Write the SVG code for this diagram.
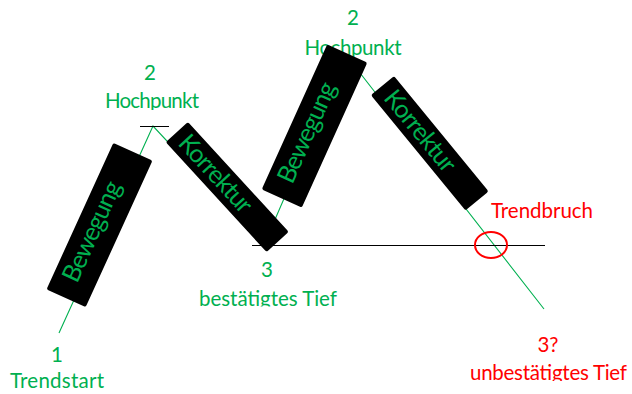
<svg xmlns="http://www.w3.org/2000/svg" width="632" height="394" viewBox="0 0 632 394">
<style>
  .g{fill:#00b050}
  .r{fill:#ff0000}
  text{font-family:Lato,"Open Sans","Liberation Sans",sans-serif;text-anchor:middle}
  .lbl{font-size:20.5px}
  .bt{font-size:25px;fill:#00b050}
  .box{fill:#000}
  .gl{stroke:#00b050;stroke-width:1.1;fill:none}
  .bl{stroke:#000;stroke-width:1;fill:none}
</style>
<defs>
  <clipPath id="c1"><rect x="80" y="80" width="150" height="30"/></clipPath>
  <clipPath id="c2"><rect x="180" y="280" width="180" height="26.5"/></clipPath>
  <clipPath id="c3"><rect x="450" y="355" width="182" height="26"/></clipPath>
</defs>
<rect width="632" height="394" fill="#fff"/>
<g id="labels">
  <g id="hoch1"><text class="lbl g" x="150" y="80">2</text><text class="lbl g" x="152" y="108" textLength="94" clip-path="url(#c1)">Hochpunkt</text></g>
  <g id="hoch2"><text class="lbl g" x="353" y="25">2</text><text class="lbl g" x="353" y="55" textLength="97">Hochpunkt</text></g>
  <g id="tief"><text class="lbl g" x="267" y="277">3</text><text class="lbl g" x="268" y="306" textLength="138" clip-path="url(#c2)">bestätigtes Tief</text></g>
  <g id="start"><text class="lbl g" x="57" y="362">1</text><text class="lbl g" x="57" y="388" textLength="94">Trendstart</text></g>
  <g id="untief"><text class="lbl r" x="548" y="352">3?</text><text class="lbl r" x="548.5" y="380" textLength="157" clip-path="url(#c3)">unbestätigtes Tief</text></g>
  <g id="bruch"><text class="lbl r" x="542" y="218" textLength="102">Trendbruch</text></g>
</g>
<g id="connectors">
  <path class="gl" d="M59,333 L153,126 L264,245 L346,55 L544,309"/>
  <path class="bl" d="M140,126.5 H169"/>
  <path class="bl" d="M252,245.5 H545"/>
</g>
<g id="bewegung1" transform="translate(99.5,225) rotate(24.5)">
  <rect class="box" x="-21.5" y="-80.5" width="43" height="161" rx="2"/>
  <text class="bt" transform="rotate(-90)" x="-9" y="4" textLength="108">Bewegung</text>
</g>
<g id="korrektur1" transform="translate(227.25,187) rotate(47.5)">
  <rect class="box" x="-74.5" y="-15" width="149" height="30" rx="2"/>
  <text class="bt" x="-17.5" y="8" textLength="96">Korrektur</text>
</g>
<g id="bewegung2" transform="translate(314.5,126) rotate(24.3)">
  <rect class="box" x="-22" y="-79.5" width="44" height="159" rx="2"/>
  <text class="bt" transform="rotate(-90)" x="-9" y="4" textLength="108">Bewegung</text>
</g>
<g id="korrektur2" transform="translate(429.75,143.25) rotate(50.7)">
  <rect class="box" x="-74.5" y="-15" width="149" height="30" rx="2"/>
  <text class="bt" x="-15.5" y="8" textLength="98">Korrektur</text>
</g>
<g id="trendbruch-mark">
  <ellipse cx="491" cy="245" rx="16" ry="13" fill="none" stroke="#ff0000" stroke-width="2"/>
</g>
</svg>
